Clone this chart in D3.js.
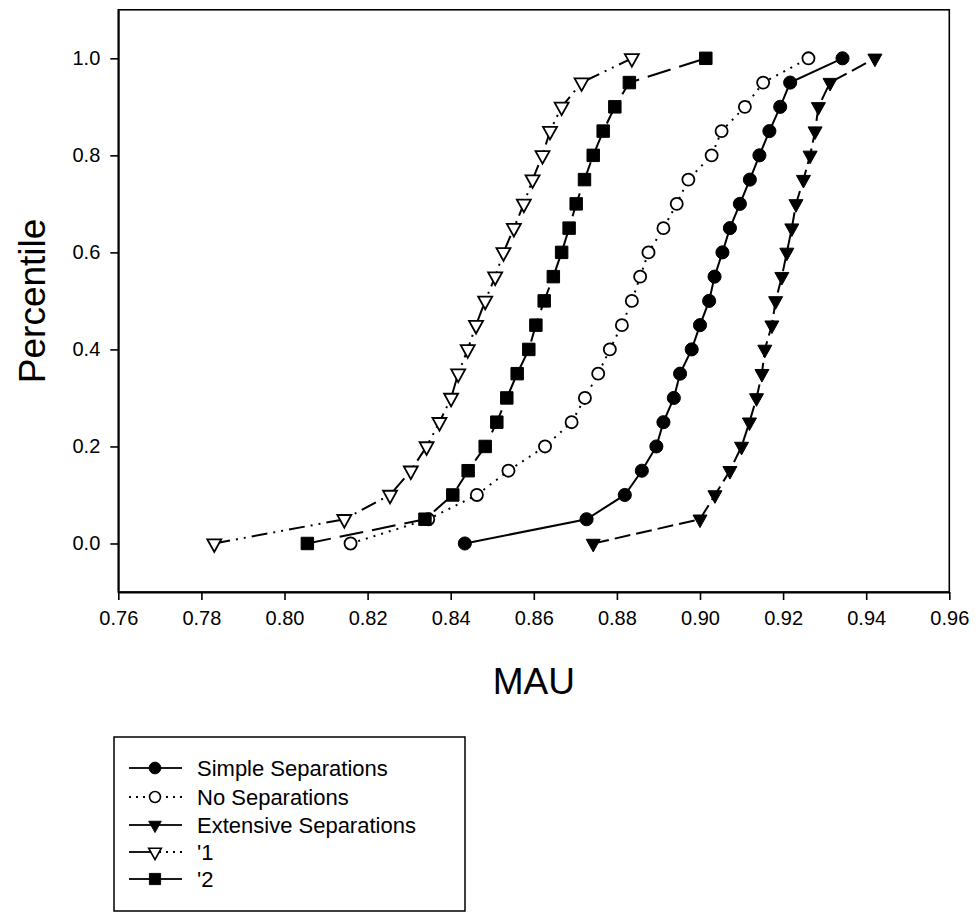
<!DOCTYPE html>
<html>
<head>
<meta charset="utf-8">
<script src="https://cdn.jsdelivr.net/npm/d3@7/dist/d3.min.js"></script>
<style>
  html, body { margin: 0; padding: 0; background: #fff; }
  svg { display: block; font-family: "Liberation Sans", Arial, Helvetica, sans-serif; }
</style>
</head>
<body>
<svg id="chart" width="977" height="912"></svg>
<script>
// Percentile levels shared by every series
const percentiles = [0, 0.05, 0.10, 0.15, 0.20, 0.25, 0.30, 0.35, 0.40, 0.45, 0.50,
                     0.55, 0.60, 0.65, 0.70, 0.75, 0.80, 0.85, 0.90, 0.95, 1.00];

// MAU value reached at each percentile
const simpleSeparations = [0.8434, 0.8727, 0.8819, 0.8860, 0.8895, 0.8912, 0.8937, 0.8952, 0.8980, 0.9000, 0.9022,
                           0.9035, 0.9054, 0.9072, 0.9096, 0.9120, 0.9143, 0.9167, 0.9193, 0.9217, 0.9343];
const noSeparations = [0.8159, 0.8346, 0.8463, 0.8539, 0.8627, 0.8691, 0.8723, 0.8755, 0.8783, 0.8812, 0.8836,
                       0.8856, 0.8876, 0.8912, 0.8944, 0.8972, 0.9028, 0.9052, 0.9108, 0.9152, 0.9261];
const extensiveSeparations = [0.8743, 0.9000, 0.9036, 0.9072, 0.9100, 0.9119, 0.9136, 0.9149, 0.9156, 0.9173, 0.9182,
                              0.9197, 0.9209, 0.9221, 0.9231, 0.9249, 0.9265, 0.9277, 0.9285, 0.9313, 0.9421];
const series1 = [0.7831, 0.8144, 0.8254, 0.8304, 0.8342, 0.8373, 0.8401, 0.8418, 0.8441, 0.8461, 0.8483,
                 0.8507, 0.8527, 0.8552, 0.8576, 0.8597, 0.8621, 0.8639, 0.8667, 0.8715, 0.8836];
const series2 = [0.8055, 0.8338, 0.8405, 0.8442, 0.8483, 0.8511, 0.8535, 0.8560, 0.8588, 0.8605, 0.8625,
                 0.8647, 0.8667, 0.8685, 0.8702, 0.8722, 0.8743, 0.8767, 0.8795, 0.8830, 0.9014];

const seriesNames = ["Simple Separations", "No Separations", "Extensive Separations", "'1", "'2"];
const xTicks = [0.76, 0.78, 0.80, 0.82, 0.84, 0.86, 0.88, 0.90, 0.92, 0.94, 0.96];
const yTicks = [0.0, 0.2, 0.4, 0.6, 0.8, 1.0];

// Drawing styles for each series (marker shape, fill, dash pattern)
const styles = [
  { values: simpleSeparations,    symbol: d3.symbolCircle,   filled: true,  size: 135, dash: null,           legendLeft: null,  legendRight: null },
  { values: noSeparations,        symbol: d3.symbolCircle,   filled: false, size: 115, dash: "2,6",          legendLeft: "2,5", legendRight: "2,5" },
  { values: extensiveSeparations, symbol: "down",            filled: true,  size: 14,  dash: "16,6",         legendLeft: null,  legendRight: null },
  { values: series1,              symbol: "down",            filled: false, size: 14,  dash: "16,6,2,6,2,6", legendLeft: null,  legendRight: "2,5" },
  { values: series2,              symbol: d3.symbolSquare,   filled: true,  size: 155, dash: "24,9",         legendLeft: null,  legendRight: null }
];

const svg = d3.select("#chart");
const plot = { left: 118.3, right: 949.3, top: 9.8, bottom: 592 };

const x = d3.scaleLinear().domain([0.76, 0.96]).range([plot.left, plot.right]);
const y = d3.scaleLinear().domain([-0.1, 1.1]).range([plot.bottom, plot.top]);

// Frame around the plotting area
svg.append("rect")
  .attr("x", plot.left).attr("y", plot.top)
  .attr("width", plot.right - plot.left).attr("height", plot.bottom - plot.top)
  .attr("fill", "none").attr("stroke", "#000").attr("stroke-width", 1.6);

// Axes
const xAxis = d3.axisBottom(x).tickValues(xTicks).tickFormat(d3.format(".2f")).tickSizeOuter(0).tickSizeInner(8).tickPadding(11);
const yAxis = d3.axisLeft(y).tickValues(yTicks).tickFormat(d3.format(".1f")).tickSizeOuter(0).tickSizeInner(8).tickPadding(10);

const gx = svg.append("g").attr("transform", `translate(0,${plot.bottom})`).call(xAxis);
const gy = svg.append("g").attr("transform", `translate(${plot.left},0)`).call(yAxis);
[gx, gy].forEach(g => {
  g.select(".domain").attr("stroke", "#000").attr("stroke-width", 1.8);
  g.selectAll(".tick line").attr("stroke", "#000").attr("stroke-width", 1.6);
  g.selectAll(".tick text").attr("fill", "#000").style("font-size", "20px")
    .style("font-family", "\"Liberation Sans\", Arial, Helvetica, sans-serif");
});

// Axis titles
svg.append("text")
  .attr("x", (plot.left + plot.right) / 2).attr("y", 694)
  .attr("text-anchor", "middle").style("font-size", "37px").text("MAU");
svg.append("text")
  .attr("transform", `translate(45,${y(0.5)}) rotate(-90)`)
  .attr("text-anchor", "middle").style("font-size", "37px").text("Percentile");

// Marker path generator
function markerPath(s) {
  if (s.symbol === "down") {
    const w = s.size, h = s.size * 0.9;
    return `M${-w / 2},${-h / 3}L${w / 2},${-h / 3}L0,${h * 2 / 3}Z`;
  }
  return d3.symbol().type(s.symbol).size(s.size)();
}

const line = d3.line().x(d => x(d[0])).y(d => y(d[1]));

// Lines first, then markers on top
styles.forEach(s => {
  const pts = s.values.map((v, i) => [v, percentiles[i]]);
  svg.append("path")
    .datum(pts)
    .attr("d", line)
    .attr("fill", "none").attr("stroke", "#000").attr("stroke-width", 2)
    .attr("stroke-dasharray", s.dash);
});
styles.forEach(s => {
  const pts = s.values.map((v, i) => [v, percentiles[i]]);
  svg.append("g").selectAll("path")
    .data(pts).join("path")
    .attr("transform", d => `translate(${x(d[0])},${y(d[1])})`)
    .attr("d", markerPath(s))
    .attr("fill", s.filled ? "#000" : "#fff")
    .attr("stroke", "#000").attr("stroke-width", s.filled ? 1 : 1.8);
});

// Legend
const legend = { x: 114, y: 737, w: 351, h: 174 };
svg.append("rect")
  .attr("x", legend.x).attr("y", legend.y).attr("width", legend.w).attr("height", legend.h)
  .attr("fill", "#fff").attr("stroke", "#000").attr("stroke-width", 1.5);

const rowY = [768, 797, 825, 852, 879];
styles.forEach((s, i) => {
  const ly = rowY[i];
  const g = svg.append("g");
  g.append("line").attr("x1", 129).attr("x2", 155).attr("y1", ly).attr("y2", ly)
    .attr("stroke", "#000").attr("stroke-width", 1.8).attr("stroke-dasharray", s.legendLeft);
  g.append("line").attr("x1", 182).attr("x2", 155).attr("y1", ly).attr("y2", ly)
    .attr("stroke", "#000").attr("stroke-width", 1.8).attr("stroke-dasharray", s.legendRight);
  g.append("path")
    .attr("transform", `translate(155,${ly}) scale(0.9)`)
    .attr("d", markerPath(s))
    .attr("fill", s.filled ? "#000" : "#fff")
    .attr("stroke", "#000").attr("stroke-width", s.filled ? 1 : 1.8);
  g.append("text")
    .attr("x", 197).attr("y", ly).attr("dy", "0.35em")
    .style("font-size", "22px").text(seriesNames[i]);
});
</script>
</body>
</html>
